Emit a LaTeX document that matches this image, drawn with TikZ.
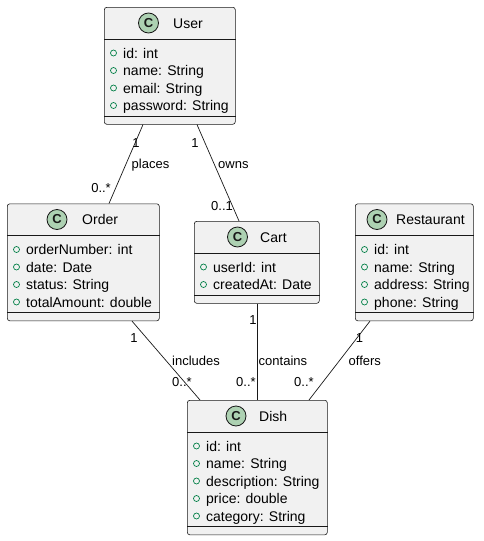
\documentclass[tikz,border=0pt]{standalone}
\usepackage{fontspec}
\setmainfont{Liberation Sans}
\definecolor{boxfill}{HTML}{F1F1F1}
\definecolor{ink}{HTML}{181818}
\definecolor{iconfill}{HTML}{ADD1B2}
\definecolor{fieldgreen}{HTML}{038048}
\tikzset{
  classbox/.style={draw=ink, fill=boxfill, line width=0.6pt, rounded corners=2.5pt,
    inner sep=0pt, anchor=north west},
  divider/.style={draw=ink, line width=0.6pt},
  classicon/.style={circle, draw=ink, fill=iconfill, line width=0.8pt, minimum size=20pt,
    inner sep=0pt, text=ink, font=\fontsize{13}{13}\selectfont\bfseries},
  classname/.style={anchor=base west, inner sep=0pt, font=\fontsize{14}{14}\selectfont},
  field/.style={anchor=base west, inner sep=0pt, font=\fontsize{14}{14}\selectfont},
  fieldmark/.style={circle, draw=fieldgreen, line width=0.7pt, minimum size=6pt, inner sep=0pt},
  assoc/.style={draw=ink, line width=0.7pt},
  role/.style={inner sep=0pt, text height=9.4pt, text depth=0pt, font=\fontsize{13}{13}\selectfont},
}

% #1 node name, #2 left, #3 top, #4 width, #5 number of fields,
% #6 icon centre offset, #7 name offset, #8 class name, #9 fields
\newcommand{\umlclass}[9]{%
  \pgfmathsetmacro\boxh{47+17.5*#5}%
  \pgfmathsetmacro\sepy{39+17.5*#5}%
  \node[classbox, minimum width=#4pt, minimum height=\boxh pt] (#1) at (#2,#3) {};
  \draw[divider] ([yshift=-32pt]#1.north west) -- ([yshift=-32pt]#1.north east);
  \draw[divider] ([yshift=-\sepy pt]#1.north west) -- ([yshift=-\sepy pt]#1.north east);
  \node[classicon] (#1-icon) at ([xshift=#6pt,yshift=-16pt]#1.north west) {C};
  \node[classname] (#1-name) at ([xshift=#7pt,yshift=-21pt]#1.north west) {#8};
  \foreach \fld [count=\k from 0] in {#9} {
    \pgfmathsetmacro\fy{-(46+17.5*\k)}
    \pgfmathsetmacro\by{\fy-5}
    \node[fieldmark] (#1-mark-\k) at ([xshift=9.5pt,yshift=\fy pt]#1.north west) {};
    \node[field] (#1-field-\k) at ([xshift=19pt,yshift=\by pt]#1.north west) {\fld};
  }%
}

\begin{document}
\begin{tikzpicture}[x=1pt,y=-1pt]
  \useasboundingbox (0,0) rectangle (483,541);

  \umlclass{user}{104}{7}{131}{4}{44.5}{69}{User}
    {id: int, name: String, email: String, password: String}
  \umlclass{order}{7}{203.5}{152}{4}{50}{75}{Order}
    {orderNumber: int, date: Date, status: String, totalAmount: double}
  \umlclass{cart}{194}{221}{125}{2}{43.5}{66}{Cart}
    {userId: int, createdAt: Date}
  \umlclass{restaurant}{355}{203.5}{118}{4}{22}{41}{Restaurant}
    {id: int, name: String, address: String, phone: String}
  \umlclass{dish}{187}{400}{140}{5}{49}{72}{Dish}
    {id: int, name: String, description: String, price: double, category: String}

  % associations
  \draw[assoc] ([xshift=39pt]user.south west) -- ([xshift=102pt]order.north west);
  \draw[assoc] ([xshift=93pt]user.south west) -- ([xshift=45pt]cart.north west);
  \draw[assoc] ([xshift=125pt]order.south west) -- ([xshift=13pt]dish.north west);
  \draw[assoc] ([xshift=63pt]cart.south west) -- ([xshift=70pt]dish.north west);
  \draw[assoc] ([xshift=15pt]restaurant.south west) -- ([xshift=122pt]dish.north west);

  % multiplicities and association names
  \node[role] (uo-one) at (136,142.5) {1};
  \node[role, anchor=west] (uo-name) at (131.5,164) {places};
  \node[role, anchor=east] (uo-many) at (111,187.5) {0..*};

  \node[role] (uc-one) at (195,143) {1};
  \node[role, anchor=west] (uc-name) at (218,164) {owns};
  \node[role] (uc-opt) at (222,206) {0..1};

  \node[role] (od-one) at (134,338) {1};
  \node[role, anchor=west] (od-name) at (172,361) {includes};
  \node[role] (od-many) at (182,382) {0..*};

  \node[role] (cd-one) at (253,320) {1};
  \node[role, anchor=west] (cd-name) at (258.5,361) {contains};
  \node[role] (cd-many) at (246,382) {0..*};

  \node[role] (rd-one) at (359.5,338) {1};
  \node[role, anchor=west] (rd-name) at (348.5,361) {offers};
  \node[role] (rd-many) at (304,382) {0..*};
\end{tikzpicture}
\end{document}
